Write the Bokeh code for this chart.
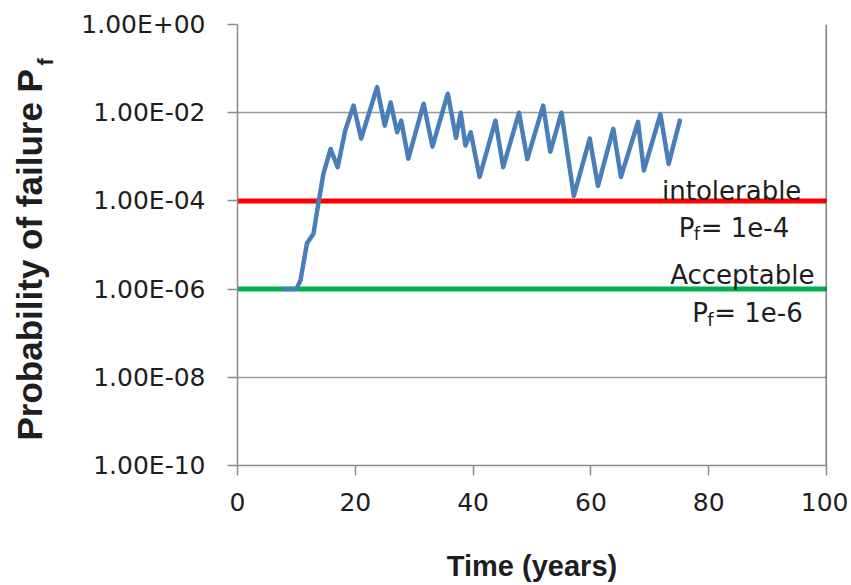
import math
from bokeh.plotting import figure
from bokeh.layouts import row
from bokeh.models import Range1d, FixedTicker, Label, Span
from bokeh.core.properties import value
from bokeh.embed import file_html
from bokeh.resources import INLINE

# ---- data ----
years = [8, 10, 10.7, 11.8, 12.9, 13.8, 14.6, 15.8, 17.0, 18.3, 19.7, 21.0, 23.7,
         25.0, 26.0, 27.1, 27.8, 29.0, 31.6, 33.1, 35.7, 37.1, 37.9, 38.7, 39.6,
         41.1, 43.8, 45.1, 47.8, 49.2, 51.9, 53.1, 55.0, 57.1, 59.8, 61.2, 63.8,
         65.1, 68.0, 69.0, 71.8, 73.2, 75.1]
pf = [1.0e-6, 1.0e-6, 1.6e-6, 1.1e-5, 1.8e-5, 1.0e-4, 4.2e-4, 1.5e-3, 5.8e-4,
      4.0e-3, 1.45e-2, 2.6e-3, 3.8e-2, 5.1e-3, 1.7e-2, 3.6e-3, 6.6e-3, 9.1e-4,
      1.6e-2, 1.7e-3, 2.7e-2, 2.7e-3, 1.0e-2, 1.8e-3, 3.6e-3, 3.5e-4, 6.6e-3,
      5.8e-4, 1.0e-2, 8.9e-4, 1.45e-2, 1.3e-3, 1.0e-2, 1.3e-4, 2.6e-3, 2.2e-4,
      4.3e-3, 3.5e-4, 6.2e-3, 4.9e-4, 9.3e-3, 6.9e-4, 6.6e-3]

limit_x = [0, 100]
intolerable_pf = [1e-4, 1e-4]
acceptable_pf = [1e-6, 1e-6]

x_ticks = [0, 20, 40, 60, 80, 100]
y_ticks = [1e-10, 1e-8, 1e-6, 1e-4, 1e-2, 1e0]
y_tick_labels = ["1.00E-10", "1.00E-08", "1.00E-06", "1.00E-04", "1.00E-02", "1.00E+00"]

y_title = "Probability of failure P"
y_title_sub = "f"

FONT = "DejaVu Sans"
BOLD = "Liberation Sans"
TXT = "#1e1e1e"
H = 585
LW = 60            # width of the strip holding the vertical title
TOP, BOT = 24, 465  # frame top / bottom in pixels
FH = BOT - TOP

# ---- strip with the rotated y-axis title (its frame is aligned with the chart's) ----
t = figure(width=LW, height=H, output_backend="svg", toolbar_location=None,
           x_range=Range1d(0, LW), y_range=Range1d(0, FH),
           min_border_left=0, min_border_right=0, min_border_top=TOP,
           min_border_bottom=H - BOT, outline_line_color=None)
t.axis.visible = False
t.grid.visible = False
t.text(x=[29], y=[25], text=[y_title], angle=math.pi / 2,
       text_font=value(BOLD), text_font_style="bold", text_font_size="35px",
       text_color=TXT, text_align="left", text_baseline="middle")
t.text(x=[45], y=[FH - 41], text=[y_title_sub], angle=math.pi / 2,
       text_font=value(BOLD), text_font_style="bold", text_font_size="22px",
       text_color=TXT, text_align="left", text_baseline="middle")

# ---- main chart ----
p = figure(width=848 - LW, height=H, output_backend="svg", toolbar_location=None,
           y_axis_type="log", x_range=Range1d(0, 100), y_range=Range1d(1e-10, 1e0),
           min_border_left=237 - LW, min_border_right=22, min_border_top=TOP,
           min_border_bottom=H - BOT)
p.outline_line_color = None

p.xaxis.ticker = FixedTicker(ticks=x_ticks)
p.yaxis.ticker = FixedTicker(ticks=y_ticks)
p.yaxis.major_label_overrides = {v: s for v, s in zip(y_ticks, y_tick_labels)}
for ax in (p.xaxis[0], p.yaxis[0]):
    ax.axis_line_color = "#8c8c8c"
    ax.axis_line_width = 1.5
    ax.major_tick_line_color = "#8c8c8c"
    ax.major_tick_line_width = 1.5
    ax.major_tick_in = 0
    ax.major_tick_out = 10
    ax.minor_tick_line_color = None
    ax.major_label_text_font = FONT
    ax.major_label_text_font_size = "25px"
    ax.major_label_text_color = TXT
p.xaxis.major_label_standoff = 17
p.yaxis.major_label_standoff = 22
p.xaxis.axis_label = "Time (years)"
p.xaxis.axis_label_text_font = BOLD
p.xaxis.axis_label_text_font_style = "bold"
p.xaxis.axis_label_text_font_size = "29px"
p.xaxis.axis_label_text_color = TXT
p.xaxis.axis_label_standoff = 36

p.xgrid.grid_line_color = None
p.ygrid.grid_line_color = "#9a9a9a"
p.ygrid.grid_line_width = 1.5
p.ygrid.minor_grid_line_color = None

p.add_layout(Span(location=100, dimension="height", line_color="black", line_width=1.5))

p.line(limit_x, intolerable_pf, line_color="#ff0000", line_width=5)
p.line(limit_x, acceptable_pf, line_color="#00b050", line_width=5)
p.line(years, pf, line_color="#4a7ebb", line_width=4.5, line_join="round", line_cap="round")

def lab(text, x, y, xo=0, yo=0, size="26px", align="left"):
    p.add_layout(Label(x=x, y=y, x_offset=xo, y_offset=yo, text=text,
                       text_font=FONT, text_font_size=size, text_color=TXT,
                       text_align=align, text_baseline="alphabetic"))

lab("intolerable", 83.9, 1e-4, yo=10, align="center")
lab("P", 74.9, 1e-4, yo=-27)
lab("f", 74.9, 1e-4, xo=15, yo=-33, size="18px")
lab("= 1e-4", 74.9, 1e-4, xo=22, yo=-27)
lab("Acceptable", 85.7, 1e-6, yo=14, align="center")
lab("P", 77.2, 1e-6, yo=-24)
lab("f", 77.2, 1e-6, xo=15, yo=-30, size="18px")
lab("= 1e-6", 77.2, 1e-6, xo=22, yo=-24)

layout = row(t, p, spacing=0)
open("out.html", "w").write(file_html(layout, INLINE))
